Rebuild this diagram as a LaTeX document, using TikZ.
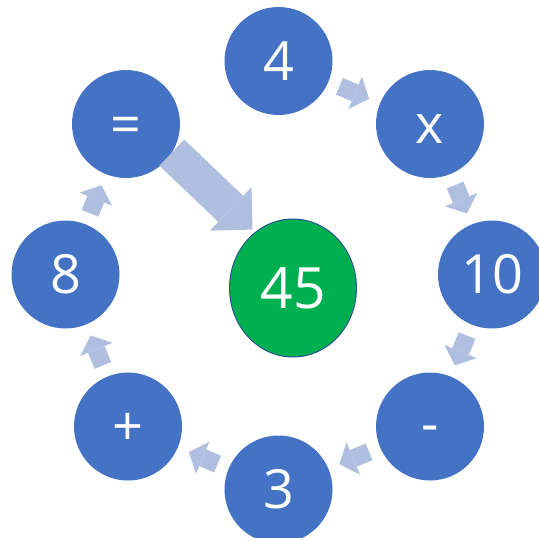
\documentclass[tikz,border=0pt]{standalone}
\usepackage{fontspec}
\setmainfont{Open Sans}
\usetikzlibrary{shapes.geometric, arrows.meta}
\definecolor{numblue}{RGB}{68, 114, 196}
\definecolor{resgreen}{RGB}{0, 176, 80}
\definecolor{rimcol}{RGB}{47, 82, 143}
\definecolor{flowcol}{RGB}{176, 190, 224}
\tikzset{
  numcirc/.style={circle, fill=numblue, text=white, minimum size=108pt, inner sep=0pt,
                  outer sep=0pt, text height=38.6pt, text depth=0pt,
                  font=\fontsize{54}{60}\selectfont},
  stepflow/.style={draw=flowcol, line width=18pt, shorten <=12pt, shorten >=12pt,
                   -{Triangle[length=15pt, width=35pt, line width=0pt]}},
  bigflow/.style={draw=flowcol, line width=36pt,
                  -{Triangle[length=30pt, width=60pt, line width=0pt]}},
}

\begin{document}
\begin{tikzpicture}[x=1pt, y=-1pt]
  \useasboundingbox (0,0) rectangle (539,538);
  \clip (0,0) rectangle (539,538);
  % --- ring of operands and operators ---
  \node[numcirc] (n4) at (278.5,61) {4};
  \node[numcirc] (times) at (430,124) {x};
  \node[numcirc] (n10) at (492,274.5) {10};
  \node[numcirc, text height=31.6pt] (minus) at (430,426.5) {-};
  \node[numcirc] (n3) at (278.5,489.5) {3};
  \node[numcirc] (plus) at (128,426.5) {+};
  \node[numcirc] (n8) at (65.5,274.5) {8};
  \node[numcirc] (eq) at (126,124) {=};

  % --- result ---
  \node[ellipse, fill=resgreen, draw=rimcol, line width=1pt, text=white,
        minimum width=127pt, minimum height=138pt, inner sep=0pt,
        font=\fontsize{57}{64}\selectfont] (res) at (293,288) {45};

  % --- step arrows ---
  \draw[stepflow] (n4) -- (times);
  \draw[stepflow] (times) -- (n10);
  \draw[stepflow] (n10) -- (minus);
  \draw[stepflow] (minus) -- (n3);
  \draw[stepflow] (n3) -- (plus);
  \draw[stepflow] (plus) -- (n8);
  \draw[stepflow] (n8) -- (eq);

  \coordinate (restip) at (252.5,229.6);
  \draw[bigflow] (eq.-32.5) -- (restip);
\end{tikzpicture}
\end{document}
